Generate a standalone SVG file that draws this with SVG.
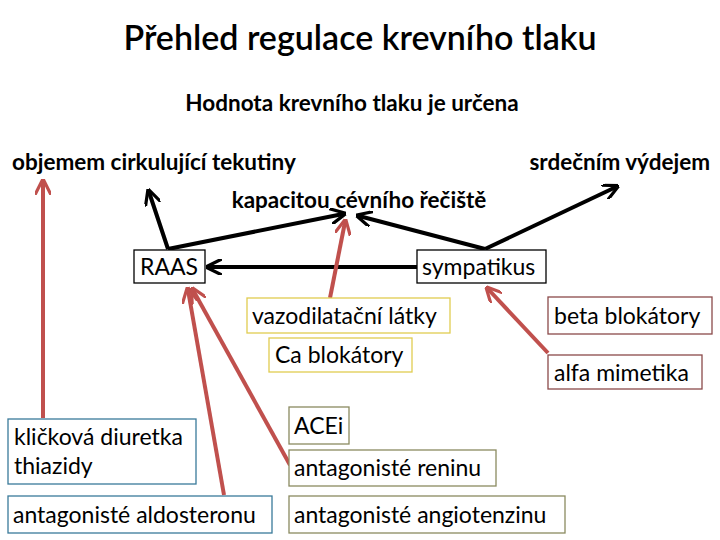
<svg xmlns="http://www.w3.org/2000/svg" width="720" height="540" viewBox="0 0 720 540">
<style>
text{font-family:Lato,"Open Sans",sans-serif;fill:#000}
.h{font-weight:bold;font-size:22.5px}
.t{font-size:23px}
.b{fill:#fff;stroke-width:1.3}
.k{stroke:#000;stroke-width:4;fill:none;marker-end:url(#ak)}
.r{stroke:#c0504d;stroke-width:4;fill:none;marker-end:url(#ar)}
</style>
<defs>
<marker id="ak" viewBox="0 0 10 10" refX="8" refY="5" markerWidth="4" markerHeight="4" orient="auto"><path d="M0,0L10,5L0,10" fill="none" stroke="#000" stroke-width="2"/></marker>
<marker id="ar" viewBox="0 0 10 10" refX="8" refY="5" markerWidth="4" markerHeight="4" orient="auto"><path d="M0,0L10,5L0,10" fill="none" stroke="#c0504d" stroke-width="2"/></marker>
</defs>
<text x="360" y="50" text-anchor="middle" style="font-size:34px;font-weight:600">Přehled  regulace krevního tlaku</text>
<text class="h" x="352" y="111" text-anchor="middle">Hodnota krevního tlaku je určena</text>
<g id="objem"><text class="h" x="12" y="170">objemem cirkulující tekutiny</text></g>
<g id="srdce"><text class="h" x="710" y="170" text-anchor="end">srdečním výdejem</text></g>
<g id="kapacita"><text class="h" x="359" y="208" text-anchor="middle">kapacitou cévního řečiště</text></g>
<g id="connectors">
<line class="k" x1="168" y1="249" x2="149" y2="192"/>
<line class="k" x1="168" y1="249" x2="343" y2="214"/>
<line class="k" x1="485" y1="249" x2="359" y2="216"/>
<line class="k" x1="485" y1="249" x2="616" y2="187"/>
<line class="k" x1="417" y1="267" x2="209" y2="267"/>
<line class="r" x1="43" y1="418" x2="43" y2="182"/>
<line class="r" x1="224" y1="495" x2="188" y2="290"/>
<line class="r" x1="290" y1="465" x2="193" y2="290"/>
<line class="r" x1="330" y1="298" x2="345" y2="222"/>
<line class="r" x1="548" y1="353" x2="488" y2="289"/>
</g>
<g id="raas"><rect class="b" x="134" y="250" width="71" height="33" stroke="#000"/><text class="t" x="140" y="275">RAAS</text></g>
<g id="sympatikus"><rect class="b" x="417" y="250" width="129" height="33" stroke="#000"/><text class="t" x="422" y="275">sympatikus</text></g>
<g id="vazo"><rect class="b" x="247" y="298" width="203" height="35" stroke="#e0cc50"/><text class="t" x="252" y="324">vazodilatační látky</text></g>
<g id="ca"><rect class="b" x="269" y="338" width="143" height="34" stroke="#e0cc50"/><text class="t" x="275" y="363">Ca blokátory</text></g>
<g id="beta"><rect class="b" x="548" y="297" width="164" height="37" stroke="#8b4a4a"/><text class="t" x="554" y="324">beta blokátory</text></g>
<g id="alfa"><rect class="b" x="548" y="355" width="154" height="34" stroke="#8b4a4a"/><text class="t" x="554" y="381">alfa mimetika</text></g>
<g id="diuretika"><rect class="b" x="8" y="419" width="188" height="65" stroke="#3a7a9a"/><text class="t" x="14" y="445">kličková diuretka</text><text class="t" x="14" y="474">thiazidy</text></g>
<g id="aldo"><rect class="b" x="8" y="496" width="264" height="37" stroke="#3a7a9a"/><text class="t" x="13" y="523">antagonisté aldosteronu</text></g>
<g id="acei"><rect class="b" x="289" y="407" width="60" height="37" stroke="#8a8a60"/><text class="t" x="294" y="434">ACEi</text></g>
<g id="renin"><rect class="b" x="289" y="450" width="207" height="36" stroke="#8a8a60"/><text class="t" x="294" y="476">antagonisté reninu</text></g>
<g id="angio"><rect class="b" x="289" y="496" width="276" height="37" stroke="#8a8a60"/><text class="t" x="294" y="523">antagonisté angiotenzinu</text></g>
</svg>
